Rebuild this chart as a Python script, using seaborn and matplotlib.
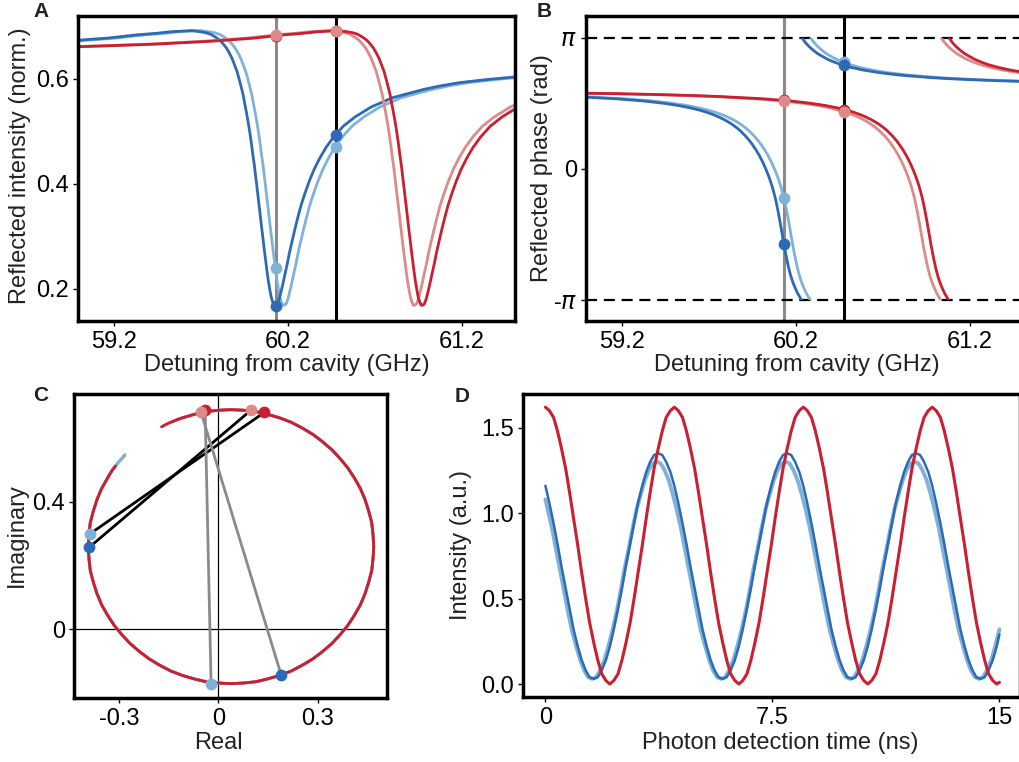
import numpy as np
import matplotlib
matplotlib.use("Agg")
import matplotlib.pyplot as plt
from matplotlib.patches import Rectangle
import seaborn as sns

# ------------------------------------------------------------------
# DATA
# ------------------------------------------------------------------
# Complex reflection coefficient along the resonance, sampled versus the
# detuning offset (GHz) from each trace's own resonance centre.
profile_offset = [-2.574, -2.287, -2.057, -1.713, -1.466, -1.281, -1.136, -0.885,
                  -0.722, -0.608, -0.523, -0.457, -0.404, -0.361, -0.325, -0.294,
                  -0.267, -0.243, -0.222, -0.203, -0.186, -0.171, -0.157, -0.143,
                  -0.131, -0.119, -0.108, -0.098, -0.088, -0.078, -0.069, -0.060,
                  -0.052, -0.043, -0.035, -0.027, -0.019, -0.011, -0.003, 0.005,
                  0.013, 0.021, 0.029, 0.037, 0.045, 0.053, 0.062, 0.071,
                  0.080, 0.090, 0.100, 0.110, 0.121, 0.133, 0.146, 0.159,
                  0.174, 0.190, 0.207, 0.226, 0.248, 0.272, 0.300, 0.332,
                  0.369, 0.414, 0.469, 0.538, 0.628, 0.750, 0.926, 1.021,
                  1.137, 1.281, 1.466, 1.713, 2.057, 2.574]
profile_re = [-0.177, -0.171, -0.164, -0.151, -0.137, -0.123, -0.109, -0.073,
              -0.037, 0.001, 0.038, 0.076, 0.113, 0.149, 0.185, 0.220,
              0.253, 0.285, 0.314, 0.342, 0.367, 0.390, 0.410, 0.428,
              0.442, 0.453, 0.462, 0.466, 0.468, 0.466, 0.462, 0.453,
              0.442, 0.428, 0.410, 0.390, 0.367, 0.342, 0.314, 0.285,
              0.253, 0.220, 0.185, 0.149, 0.113, 0.076, 0.038, 0.001,
              -0.037, -0.073, -0.109, -0.144, -0.177, -0.209, -0.238, -0.266,
              -0.291, -0.314, -0.334, -0.352, -0.366, -0.377, -0.386, -0.390,
              -0.392, -0.390, -0.386, -0.377, -0.366, -0.352, -0.334, -0.327,
              -0.319, -0.310, -0.301, -0.291, -0.282, -0.271]
profile_im = [0.631, 0.635, 0.639, 0.646, 0.652, 0.658, 0.663, 0.674,
              0.683, 0.687, 0.689, 0.687, 0.683, 0.674, 0.663, 0.649,
              0.631, 0.611, 0.588, 0.563, 0.535, 0.506, 0.474, 0.441,
              0.406, 0.370, 0.334, 0.296, 0.259, 0.222, 0.184, 0.148,
              0.112, 0.077, 0.044, 0.012, -0.017, -0.045, -0.070, -0.093,
              -0.113, -0.131, -0.145, -0.156, -0.165, -0.169, -0.171, -0.169,
              -0.165, -0.156, -0.145, -0.131, -0.113, -0.093, -0.070, -0.045,
              -0.017, 0.012, 0.044, 0.077, 0.112, 0.148, 0.184, 0.222,
              0.259, 0.297, 0.334, 0.370, 0.406, 0.441, 0.474, 0.487,
              0.500, 0.512, 0.524, 0.535, 0.547, 0.558]

# resonance centres of the four traces (GHz)
center_dark_blue = 60.05
center_light_blue = 60.10
center_dark_red = 60.895
center_light_red = 60.85

# detuning range shown in the complex-plane panel (GHz)
complex_window = [58.45, 62.2]

# marker detunings: grey line, black line (GHz)
marker_detuning = [60.13, 60.475]

# panel A marker values (norm. intensity) at [grey, black]
amp_dot_dark_blue = [0.168, 0.494]
amp_dot_light_blue = [0.240, 0.471]
amp_dot_dark_red = [0.682, 0.692]
amp_dot_light_red = [0.683, 0.691]

# panel B marker values (phase in units of pi) at [grey, black]
phase_dot_dark_blue = [-0.570, 0.795]
phase_dot_light_blue = [-0.218, 0.812]
phase_dot_dark_red = [0.522, 0.452]
phase_dot_light_red = [0.517, 0.430]

# panel C marker positions (real, imaginary) at [grey, black]
cplx_dot_light_blue = [(-0.022, -0.171), (-0.387, 0.299)]
cplx_dot_dark_blue = [(0.189, -0.143), (-0.389, 0.257)]
cplx_dot_light_red = [(-0.053, 0.683), (0.098, 0.687)]
cplx_dot_dark_red = [(-0.040, 0.687), (0.138, 0.680)]

# panel D: beat signal versus photon detection time (ns)
time_ns = [0.00, 0.13, 0.27, 0.40, 0.53, 0.67, 0.80, 0.93, 1.07, 1.20, 1.33, 1.46, 1.60, 1.73, 1.86, 2.00,
           2.13, 2.26, 2.40, 2.53, 2.66, 2.80, 2.93, 3.06, 3.20, 3.33, 3.46, 3.59, 3.73, 3.86, 3.99, 4.13,
           4.26, 4.39, 4.53, 4.66, 4.79, 4.93, 5.06, 5.19, 5.33, 5.46, 5.59, 5.72, 5.86, 5.99, 6.12, 6.26,
           6.39, 6.52, 6.66, 6.79, 6.92, 7.06, 7.19, 7.32, 7.46, 7.59, 7.72, 7.85, 7.99, 8.12, 8.25, 8.39,
           8.52, 8.65, 8.79, 8.92, 9.05, 9.19, 9.32, 9.45, 9.59, 9.72, 9.85, 9.98, 10.12, 10.25, 10.38, 10.52,
           10.65, 10.78, 10.92, 11.05, 11.18, 11.32, 11.45, 11.58, 11.72, 11.85, 11.98, 12.11, 12.25, 12.38,
           12.51, 12.65, 12.78, 12.91, 13.05, 13.18, 13.31, 13.45, 13.58, 13.71, 13.85, 13.98, 14.11, 14.24,
           14.38, 14.51, 14.64, 14.78, 14.91, 15.00]
time_ns_light_blue = [0.00, 0.08, 0.22, 0.35, 0.48, 0.62, 0.75, 0.88, 1.02, 1.15, 1.28, 1.41, 1.55, 1.68, 1.81,
                      1.95, 2.08, 2.21, 2.35, 2.48, 2.61, 2.75, 2.88, 3.01, 3.15, 3.28, 3.41, 3.54, 3.68, 3.81,
                      3.94, 4.08, 4.21, 4.34, 4.48, 4.61, 4.74, 4.88, 5.01, 5.14, 5.28, 5.41, 5.54, 5.67, 5.81,
                      5.94, 6.07, 6.21, 6.34, 6.47, 6.61, 6.74, 6.87, 7.01, 7.14, 7.27, 7.41, 7.54, 7.67, 7.80,
                      7.94, 8.07, 8.20, 8.34, 8.47, 8.60, 8.74, 8.87, 9.00, 9.14, 9.27, 9.40, 9.54, 9.67, 9.80,
                      9.93, 10.07, 10.20, 10.33, 10.47, 10.60, 10.73, 10.87, 11.00, 11.13, 11.27, 11.40, 11.53,
                      11.67, 11.80, 11.93, 12.06, 12.20, 12.33, 12.46, 12.60, 12.73, 12.86, 13.00, 13.13, 13.26,
                      13.40, 13.53, 13.66, 13.80, 13.93, 14.06, 14.19, 14.33, 14.46, 14.59, 14.73, 14.86, 15.00]
intensity_red = [1.62, 1.60, 1.56, 1.48, 1.38, 1.26, 1.12, 0.97, 0.81, 0.65, 0.50, 0.36, 0.24, 0.14, 0.06, 0.02,
                 0.00, 0.02, 0.06, 0.14, 0.24, 0.36, 0.50, 0.65, 0.81, 0.97, 1.12, 1.26, 1.38, 1.48, 1.56, 1.60,
                 1.62, 1.60, 1.56, 1.48, 1.38, 1.26, 1.12, 0.97, 0.81, 0.65, 0.50, 0.36, 0.24, 0.14, 0.06, 0.02,
                 0.00, 0.02, 0.06, 0.14, 0.24, 0.36, 0.50, 0.65, 0.81, 0.97, 1.12, 1.26, 1.38, 1.48, 1.56, 1.60,
                 1.62, 1.60, 1.56, 1.48, 1.38, 1.26, 1.12, 0.97, 0.81, 0.65, 0.50, 0.36, 0.24, 0.14, 0.06, 0.02,
                 0.00, 0.02, 0.06, 0.14, 0.24, 0.36, 0.50, 0.65, 0.81, 0.97, 1.12, 1.26, 1.38, 1.48, 1.56, 1.60,
                 1.62, 1.60, 1.56, 1.48, 1.38, 1.26, 1.12, 0.97, 0.81, 0.65, 0.50, 0.36, 0.24, 0.14, 0.06, 0.02,
                 0.00, 0.01]
intensity_dark_blue = [1.16, 1.06, 0.94, 0.82, 0.69, 0.56, 0.44, 0.32, 0.22, 0.14, 0.08, 0.04, 0.03, 0.04, 0.08, 0.14,
                       0.22, 0.32, 0.44, 0.56, 0.69, 0.82, 0.94, 1.06, 1.16, 1.24, 1.30, 1.34, 1.35, 1.34, 1.30, 1.24,
                       1.16, 1.06, 0.94, 0.82, 0.69, 0.56, 0.44, 0.32, 0.22, 0.14, 0.08, 0.04, 0.03, 0.04, 0.08, 0.14,
                       0.22, 0.32, 0.44, 0.56, 0.69, 0.82, 0.94, 1.06, 1.16, 1.24, 1.30, 1.34, 1.35, 1.34, 1.30, 1.24,
                       1.16, 1.06, 0.94, 0.82, 0.69, 0.56, 0.44, 0.32, 0.22, 0.14, 0.08, 0.04, 0.03, 0.04, 0.08, 0.14,
                       0.22, 0.32, 0.44, 0.56, 0.69, 0.82, 0.94, 1.06, 1.16, 1.24, 1.30, 1.34, 1.35, 1.34, 1.30, 1.24,
                       1.16, 1.06, 0.94, 0.82, 0.69, 0.56, 0.44, 0.32, 0.22, 0.14, 0.08, 0.04, 0.03, 0.04, 0.08, 0.14,
                       0.22, 0.29]
intensity_light_blue = [1.08, 1.02, 0.91, 0.79, 0.67, 0.54, 0.42, 0.31, 0.22, 0.14, 0.08, 0.04, 0.03, 0.04, 0.08, 0.14,
                        0.22, 0.31, 0.42, 0.54, 0.67, 0.79, 0.91, 1.02, 1.11, 1.19, 1.25, 1.29, 1.30, 1.29, 1.25, 1.19,
                        1.11, 1.02, 0.91, 0.79, 0.67, 0.54, 0.42, 0.31, 0.22, 0.14, 0.08, 0.04, 0.03, 0.04, 0.08, 0.14,
                        0.22, 0.31, 0.42, 0.54, 0.67, 0.79, 0.91, 1.02, 1.11, 1.19, 1.25, 1.29, 1.30, 1.29, 1.25, 1.19,
                        1.11, 1.02, 0.91, 0.79, 0.67, 0.54, 0.42, 0.31, 0.22, 0.14, 0.08, 0.04, 0.03, 0.04, 0.08, 0.14,
                        0.22, 0.31, 0.42, 0.54, 0.67, 0.79, 0.91, 1.02, 1.11, 1.19, 1.25, 1.29, 1.30, 1.29, 1.25, 1.19,
                        1.11, 1.02, 0.91, 0.79, 0.67, 0.54, 0.42, 0.31, 0.22, 0.14, 0.08, 0.04, 0.03, 0.04, 0.08, 0.14,
                        0.22, 0.32]

# tick labels
detuning_ticks = [59.2, 60.2, 61.2]
intensity_ticks = [0.2, 0.4, 0.6]
phase_tick_labels = ["-$\\pi$", "0", "$\\pi$"]
real_ticks = [-0.3, 0.0, 0.3]
real_tick_labels = ["-0.3", "0", "0.3"]
imag_ticks = [0.0, 0.4]
imag_tick_labels = ["0", "0.4"]
time_ticks = [0, 7.5, 15]
time_tick_labels = ["0", "7.5", "15"]
beat_ticks = [0.0, 0.5, 1.0, 1.5]

# ------------------------------------------------------------------
# STYLE
# ------------------------------------------------------------------
DARK_BLUE = "#2d6ab5"
LIGHT_BLUE = "#7fb1d9"
DARK_RED = "#c91f30"
LIGHT_RED = "#dc8b88"
GREY = "#8a8a8a"

sns.set_theme(style="ticks")
plt.rcParams.update({
    "font.family": ["Liberation Sans", "DejaVu Sans"],
    "axes.linewidth": 2.5,
    "axes.edgecolor": "black",
    "axes.labelsize": 17,
    "axes.labelcolor": "#222222",
    "xtick.labelsize": 17,
    "ytick.labelsize": 17,
    "xtick.color": "black",
    "ytick.color": "black",
    "xtick.major.size": 3.5,
    "ytick.major.size": 3.5,
    "xtick.major.width": 1.0,
    "ytick.major.width": 1.0,
    "xtick.major.pad": 3.5,
    "ytick.major.pad": 3,
    "text.color": "#222222",
})

W, H = 1020, 762
fig = plt.figure(figsize=(W / 100, H / 100), dpi=100)


def add_axes_px(left, top, right, bottom):
    return fig.add_axes([left / W, 1 - bottom / H, (right - left) / W, (bottom - top) / H])


def draw_line(ax, x, y, color, lw, z=2.0, **kw):
    n = len(ax.lines)
    sns.lineplot(x=np.asarray(x), y=np.asarray(y), ax=ax, color=color, linewidth=lw,
                 sort=False, estimator=None, zorder=z, **kw)
    return ax.lines[n:]


def draw_dots(ax, x, y, color, z=5.0, s=72):
    sns.scatterplot(x=np.asarray(x), y=np.asarray(y), ax=ax, color=color, s=s,
                    linewidth=0, zorder=z)


offset = np.asarray(profile_offset)
refl = np.asarray(profile_re) + 1j * np.asarray(profile_im)
amplitude = np.abs(refl)
phase = np.unwrap(np.angle(refl))

traces = [  # drawing order: bottom -> top
    ("light_blue", center_light_blue, LIGHT_BLUE),
    ("dark_blue", center_dark_blue, DARK_BLUE),
    ("light_red", center_light_red, LIGHT_RED),
    ("dark_red", center_dark_red, DARK_RED),
]

xlim_det = (58.993, 61.505)

# ------------------------------------------------------------------
# Panel A
# ------------------------------------------------------------------
axA = add_axes_px(78, 16, 515, 321)
for name, c0, col in traces:
    draw_line(axA, c0 + offset, amplitude, col, 2.0)
axA.axvline(marker_detuning[0], color=GREY, lw=2.2, zorder=1.5)
axA.axvline(marker_detuning[1], color="black", lw=2.2, zorder=1.5)
for vals, col in [(amp_dot_dark_red, DARK_RED), (amp_dot_light_red, LIGHT_RED),
                  (amp_dot_light_blue, LIGHT_BLUE), (amp_dot_dark_blue, DARK_BLUE)]:
    draw_dots(axA, marker_detuning, vals, col)
axA.set_xlim(*xlim_det)
axA.set_ylim(0.139, 0.72)
axA.set_xticks(detuning_ticks)
axA.set_xticklabels([f"{v:.1f}" for v in detuning_ticks])
axA.set_yticks(intensity_ticks)
axA.set_yticklabels([f"{v:.1f}" for v in intensity_ticks])
axA.set_xlabel("Detuning from cavity (GHz)")
axA.set_ylabel("Reflected intensity (norm.)")
axA.xaxis.set_label_coords(0.477, -0.108)
axA.yaxis.set_label_coords(-0.108, 0.51)

# ------------------------------------------------------------------
# Panel B
# ------------------------------------------------------------------
axB = add_axes_px(586, 16, 1023, 321)
for name, c0, col in traces:
    for shift in (0.0, 2 * np.pi):
        lines = draw_line(axB, c0 + offset, phase + shift, col, 2.0)
        clip = Rectangle((xlim_det[0], -np.pi), xlim_det[1] - xlim_det[0], 2 * np.pi,
                         transform=axB.transData)
        for ln in lines:
            ln.set_clip_path(clip)
axB.axhline(np.pi, color="black", lw=1.6, ls=(0, (5, 3)), zorder=1.6)
axB.axhline(-np.pi, color="black", lw=1.6, ls=(0, (5, 3)), zorder=1.6)
axB.axvline(marker_detuning[0], color=GREY, lw=2.2, zorder=1.5)
axB.axvline(marker_detuning[1], color="black", lw=2.2, zorder=1.5)
for vals, col in [(phase_dot_dark_red, DARK_RED), (phase_dot_light_red, LIGHT_RED),
                  (phase_dot_light_blue, LIGHT_BLUE), (phase_dot_dark_blue, DARK_BLUE)]:
    draw_dots(axB, marker_detuning, np.asarray(vals) * np.pi, col)
axB.set_xlim(*xlim_det)
axB.set_ylim(-3.64, 3.66)
axB.set_xticks(detuning_ticks)
axB.set_xticklabels([f"{v:.1f}" for v in detuning_ticks])
axB.set_yticks([-np.pi, 0, np.pi])
axB.set_yticklabels(phase_tick_labels)
axB.set_xlabel("Detuning from cavity (GHz)")
axB.set_ylabel("Reflected phase (rad)")
axB.xaxis.set_label_coords(0.482, -0.108)
axB.yaxis.set_label_coords(-0.0755, 0.50)

# ------------------------------------------------------------------
# Panel C
# ------------------------------------------------------------------
axC = add_axes_px(74, 394, 387, 698)
axC.axhline(0, color="black", lw=0.9, zorder=1)
axC.axvline(0, color="black", lw=0.9, zorder=1)
for name, c0, col in [traces[1], traces[0], traces[2], traces[3]]:
    det = c0 + offset
    keep = (det >= complex_window[0]) & (det <= complex_window[1])
    draw_line(axC, refl.real[keep], refl.imag[keep], col, 2.0)
pairs = [(cplx_dot_light_blue, cplx_dot_dark_red), (cplx_dot_dark_blue, cplx_dot_light_red)]
for i, col in [(1, "black"), (0, GREY)]:
    for p, q in pairs:
        draw_line(axC, [p[i][0], q[i][0]], [p[i][1], q[i][1]], col, 2.0, z=3)
for pts, col in [(cplx_dot_dark_red, DARK_RED), (cplx_dot_light_red, LIGHT_RED),
                 (cplx_dot_dark_blue, DARK_BLUE), (cplx_dot_light_blue, LIGHT_BLUE)]:
    draw_dots(axC, [p[0] for p in pts], [p[1] for p in pts], col)
axC.set_xlim(-0.435, 0.508)
axC.set_ylim(-0.216, 0.738)
axC.set_xticks(real_ticks)
axC.set_xticklabels(real_tick_labels)
axC.set_yticks(imag_ticks)
axC.set_yticklabels(imag_tick_labels)
axC.set_xlabel("Real")
axC.set_ylabel("Imaginary")
axC.xaxis.set_label_coords(0.46, -0.113)
axC.yaxis.set_label_coords(-0.147, 0.536)

# ------------------------------------------------------------------
# Panel D
# ------------------------------------------------------------------
axD = add_axes_px(523, 394, 1020, 697)
draw_line(axD, time_ns_light_blue, intensity_light_blue, LIGHT_BLUE, 2.8)
draw_line(axD, time_ns, intensity_dark_blue, DARK_BLUE, 1.8)
draw_line(axD, time_ns, intensity_red, DARK_RED, 2.2)
axD.set_xlim(-0.74, 15.68)
axD.set_ylim(-0.076, 1.697)
axD.set_xticks(time_ticks)
axD.set_xticklabels(time_tick_labels)
axD.set_yticks(beat_ticks)
axD.set_yticklabels([f"{v:.1f}" for v in beat_ticks])
axD.set_xlabel("Photon detection time (ns)")
axD.set_ylabel("Intensity (a.u.)")
axD.xaxis.set_label_coords(0.517, -0.114)
axD.yaxis.set_label_coords(-0.1026, 0.50)

for ax in (axA, axB, axC, axD):
    for sp in ax.spines.values():
        sp.set_visible(True)
        sp.set_linewidth(2.5)
        sp.set_color("black")

# panel letters
for letter, xp, yp in [("A", 33, 17), ("B", 537, 17), ("C", 33, 401), ("D", 455, 402)]:
    fig.text(xp / W, 1 - yp / H, letter, fontsize=15, fontweight="bold",
             ha="left", va="baseline", color="#222222")

fig.savefig("out.png", dpi=100)
